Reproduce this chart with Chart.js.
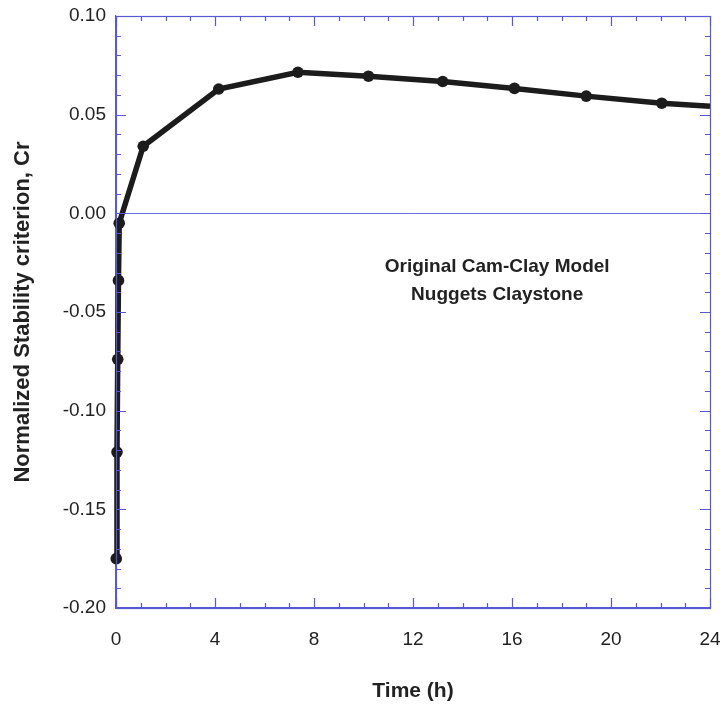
<!DOCTYPE html>
<html>
<head>
<meta charset="utf-8">
<script src="https://cdn.jsdelivr.net/npm/chart.js@4/dist/chart.umd.min.js"></script>
<style>
  html, body { margin: 0; padding: 0; background: #ffffff; }
  #wrap { width: 722px; height: 708px; }
</style>
</head>
<body>
<div id="wrap"><canvas id="c" width="722" height="708"></canvas></div>
<script>
// ---- data ----
const timeHours = [0.01, 0.04, 0.07, 0.10, 0.13, 1.1, 4.15, 7.35, 10.2, 13.2, 16.1, 19.0, 22.05, 24];
const crValues  = [-0.175, -0.121, -0.074, -0.034, -0.005, 0.034, 0.063, 0.0715, 0.0695, 0.0668, 0.0633, 0.0594, 0.0558, 0.0543];
const xTickValues = [0, 4, 8, 12, 16, 20, 24];
const yTickValues = [-0.20, -0.15, -0.10, -0.05, 0.00, 0.05, 0.10];
const annotationLines = ["Original Cam-Clay Model", "Nuggets Claystone"];
const xTitle = "Time (h)";
const yTitle = "Normalized Stability criterion, Cr";

const FONT = "'Liberation Sans', Arial, Helvetica, sans-serif";
const AXIS_BLUE = "#5858d2";
const ZERO_BLUE = "#6f6fe6";
const TEXT = "#222222";

const points = timeHours.map((t, i) => ({ x: t, y: crValues[i] }));

// inside ticks on all four sides + annotation text
const framePlugin = {
  id: 'frameTicks',
  afterDatasetsDraw(chart) {
    const { ctx, chartArea: a, scales: { x, y } } = chart;
    ctx.save();
    ctx.strokeStyle = AXIS_BLUE;
    ctx.lineWidth = 1.2;
    ctx.beginPath();
    for (let i = 0; i <= 24; i++) {
      const px = Math.round(x.getPixelForValue(i)) + 0.5;
      const len = (i % 4 === 0) ? 10 : 5;
      ctx.moveTo(px, a.bottom); ctx.lineTo(px, a.bottom - len);
      ctx.moveTo(px, a.top); ctx.lineTo(px, a.top + len);
    }
    for (let j = -20; j <= 10; j++) {
      const py = Math.round(y.getPixelForValue(j / 100)) + 0.5;
      const len = (j % 5 === 0) ? 10 : 5;
      ctx.moveTo(a.left, py); ctx.lineTo(a.left + len, py);
      ctx.moveTo(a.right, py); ctx.lineTo(a.right - len, py);
    }
    ctx.stroke();
    ctx.strokeRect(a.left + 0.5, a.top + 0.5, a.right - a.left, a.bottom - a.top);

    // annotation
    ctx.fillStyle = TEXT;
    ctx.font = "bold 19px " + FONT;
    ctx.textAlign = 'center';
    ctx.textBaseline = 'middle';
    const ax = x.getPixelForValue(15.4);
    ctx.fillText(annotationLines[0], ax, y.getPixelForValue(-0.0272));
    ctx.fillText(annotationLines[1], ax, y.getPixelForValue(-0.0412));
    ctx.restore();
  }
};

new Chart(document.getElementById('c'), {
  type: 'line',
  data: {
    datasets: [{
      data: points,
      borderColor: '#1c1c1c',
      backgroundColor: '#1c1c1c',
      borderWidth: 5.5,
      tension: 0,
      pointRadius: (c) => c.dataIndex === crValues.length - 1 ? 0 : 5.8,
      pointHoverRadius: 5.8,
      pointBackgroundColor: '#1c1c1c',
      pointBorderColor: '#1c1c1c',
      pointBorderWidth: 0,
      clip: false
    }]
  },
  plugins: [framePlugin],
  options: {
    responsive: false,
    animation: false,
    events: [],
    layout: { padding: { left: 0, right: 12, top: 16, bottom: 0 } },
    plugins: { legend: { display: false }, tooltip: { enabled: false } },
    scales: {
      x: {
        type: 'linear',
        min: 0, max: 24,
        afterBuildTicks: (s) => { s.ticks = xTickValues.map(v => ({ value: v })); },
        afterFit: (s) => { s.height = 100; s.paddingLeft = 0; s.paddingRight = 0; },
        grid: { display: false, drawTicks: false },
        border: { display: true, color: AXIS_BLUE, width: 1.2 },
        ticks: {
          padding: 20,
          color: TEXT,
          font: { family: FONT, size: 19 },
          callback: (v) => String(v),
          maxRotation: 0
        },
        title: {
          display: true, text: xTitle, color: TEXT,
          font: { family: FONT, size: 21, weight: 'bold' },
          padding: { top: 0, bottom: 4 }
        }
      },
      y: {
        type: 'linear',
        min: -0.2, max: 0.1,
        afterBuildTicks: (s) => { s.ticks = yTickValues.map(v => ({ value: v })); },
        afterFit: (s) => { s.width = 116; s.paddingTop = 0; s.paddingBottom = 0; },
        grid: {
          drawTicks: false,
          color: (c) => (c.tick && Math.abs(c.tick.value) < 1e-9) ? ZERO_BLUE : 'rgba(0,0,0,0)',
          lineWidth: 1
        },
        border: { display: true, color: AXIS_BLUE, width: 1.2 },
        ticks: {
          padding: 10,
          color: TEXT,
          font: { family: FONT, size: 19 },
          callback: (v) => Number(v).toFixed(2)
        },
        title: {
          display: true, text: yTitle, color: TEXT,
          font: { family: FONT, size: 22, weight: 'bold' },
          padding: { top: 10, bottom: 0 }
        }
      }
    }
  }
});
</script>
</body>
</html>
